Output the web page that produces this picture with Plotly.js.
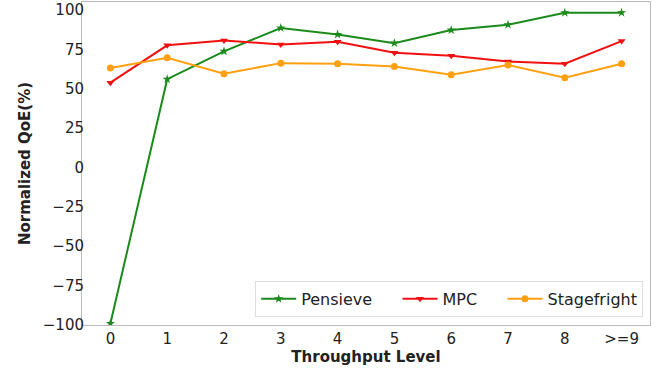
<!DOCTYPE html>
<html><head><meta charset="utf-8">
<script src="https://cdn.plot.ly/plotly-3.0.1.min.js"></script>
<style>html,body{margin:0;padding:0;background:#fff}</style>
</head><body>
<div id="chart" style="width:659px;height:370px"></div>
<script>
var levels = [0,1,2,3,4,5,6,7,8,9];
var tickLabels = ["0","1","2","3","4","5","6","7","8",">=9"];
var pensieve = [-99, 56, 73.7, 88.5, 84.4, 78.9, 87.2, 90.6, 98.2, 98.2];
var mpc = [53.8, 77.5, 80.6, 78.1, 79.8, 72.8, 70.9, 67.3, 65.8, 80.2];
var stagefright = [63.1, 69.6, 59.5, 66.2, 65.8, 64.1, 58.8, 65, 57, 65.8];
var seriesNames = ["Pensieve", "MPC", "Stagefright"];

var pad = '\u00a0\u00a0\u00a0\u00a0';
function tr(name, y, color, sym, size){
  return {x: levels, y: y, name: name, type: 'scatter', mode: 'lines+markers',
    line: {color: color, width: 2}, marker: {color: color, symbol: sym, size: size}};
}
var data = [
  tr(seriesNames[0] + pad, pensieve, '#1a8a1a', 'star', 7),
  tr(seriesNames[1] + pad, mpc, '#f01010', 'triangle-down', 7),
  tr(seriesNames[2], stagefright, '#ffa010', 'circle', 7)
];
var layout = {
  width: 659, height: 370,
  margin: {l: 82, r: 9, t: 2, b: 45},
  paper_bgcolor: '#fff', plot_bgcolor: '#fff',
  font: {family: 'DejaVu Sans, sans-serif', color: '#222'},
  showlegend: true,
  xaxis: {range: [-0.5, 9.5], tickvals: levels, ticktext: tickLabels,
    showgrid: false, zeroline: false, showline: true, mirror: true, linecolor: '#bbb', linewidth: 1,
    ticks: '', tickfont: {size: 15},
    title: {text: '<b>Throughput Level</b>', font: {size: 15}, standoff: 4}},
  yaxis: {range: [-100, 105], tickvals: [-100,-75,-50,-25,0,25,50,75,100],
    showgrid: false, zeroline: false, showline: true, mirror: true, linecolor: '#bbb', linewidth: 1,
    ticks: '', tickfont: {size: 15}, ticklabelstandoff: -6,
    title: {text: '<b>Normalized QoE(%)</b>', font: {size: 15}, standoff: 8}},
  legend: {orientation: 'h', x: 0.988, xanchor: 'right', y: 0.025, yanchor: 'bottom',
    bordercolor: '#ddd', borderwidth: 1, bgcolor: 'rgba(255,255,255,0.9)',
    font: {size: 16}, itemwidth: 35}
};
Plotly.newPlot('chart', data, layout, {displayModeBar: false, staticPlot: true});
</script>
</body></html>
